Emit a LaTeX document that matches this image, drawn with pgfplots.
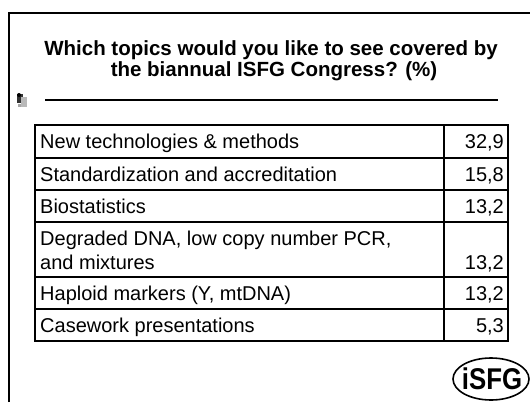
\documentclass[border=0pt]{standalone}
\usepackage{pgfplots}
\pgfplotsset{compat=1.18}
\usepackage{pgfplotstable}
\usepackage{fontspec}
\setmainfont{Liberation Sans}

\pgfplotstableread{
x y value
504 148.5 32.9
504 181.5 15.8
504 213.5 13.2
504 269.0 13.2
504 300.5 13.2
504 332.5 5.3
}\valuetable

\begin{document}
\begin{tikzpicture}
\begin{axis}[
  width=531bp, height=402bp, scale only axis,
  xmin=0, xmax=531, ymin=0, ymax=402, y dir=reverse,
  axis lines=none, clip=false,
  every node near coord/.append style={anchor=base east, inner sep=0pt, font=\fontsize{20bp}{24bp}\selectfont, text=black},
]
\path (rel axis cs:0,0) rectangle (rel axis cs:1,1);
% frame
\draw[line width=2bp] (axis cs:9,402) -- (axis cs:9,13) -- (axis cs:530,13);
% title
\node[anchor=base, inner sep=0pt, font=\fontsize{20.5bp}{24bp}\selectfont\bfseries] at (axis cs:271,55) {Which topics would you like to see covered by};
\node[anchor=base, inner sep=0pt, font=\fontsize{20.5bp}{24bp}\selectfont\bfseries] at (axis cs:274,76) {the biannual ISFG Congress? (\%)};
% rule and icon
\draw[line width=2.8bp] (axis cs:45,100) -- (axis cs:498,100);
\fill[black!80] (axis cs:17,94) rectangle (axis cs:23,103);
\fill[gray!55] (axis cs:21,97) rectangle (axis cs:27,107);
\fill[black] (axis cs:19,95) circle[radius=2bp];
\fill[gray!70] (axis cs:18,104) rectangle (axis cs:21,107);
% table grid
\draw[line width=1.8bp] (axis cs:35,125) rectangle (axis cs:508,341);
\pgfplotsinvokeforeach{158,190,222,277,309}{
  \draw[line width=1.3bp] (axis cs:35,#1) -- (axis cs:508,#1);
}
\draw[line width=1.3bp] (axis cs:444,125) -- (axis cs:444,341);
% row labels
\begin{scope}[every node/.style={anchor=base west, inner sep=0pt, font=\fontsize{20bp}{24bp}\selectfont}]
\node at (axis cs:40,148.5) {New technologies \& methods};
\node at (axis cs:40,181.5) {Standardization and accreditation};
\node at (axis cs:40,213.5) {Biostatistics};
\node at (axis cs:40,245.0) {Degraded DNA, low copy number PCR,};
\node at (axis cs:40,269.0) {and mixtures};
\node at (axis cs:40,300.5) {Haploid markers (Y, mtDNA)};
\node at (axis cs:40,332.5) {Casework presentations};
\end{scope}
% values
\addplot[only marks, mark=none, nodes near coords={\pgfmathprintnumber[use comma,fixed,fixed zerofill,precision=1,assume math mode=true]{\pgfplotspointmeta}}, point meta=explicit]
  table[x=x, y=y, meta=value] {\valuetable};
% logo
\draw[line width=1.6bp] (axis cs:491,379) ellipse[x radius=38bp, y radius=21bp];
\node[anchor=base, inner sep=0pt, xscale=0.86, font=\fontsize{30bp}{32bp}\selectfont\bfseries] at (axis cs:492,389.5) {iSFG};
\end{axis}
\end{tikzpicture}
\end{document}
